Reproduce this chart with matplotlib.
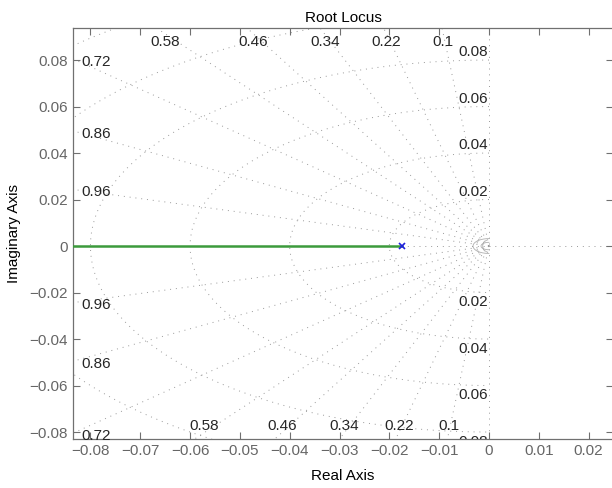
import numpy as np
import matplotlib
matplotlib.use("Agg")
import matplotlib.pyplot as plt

plt.rcParams['font.family'] = ['Liberation Sans', 'DejaVu Sans']

# root locus data
pole_re = [-0.0175]
pole_im = [0.0]
locus_re = [-0.0175, -0.2]
locus_im = [0.0, 0.0]

# sgrid values
zeta = [0.1, 0.22, 0.34, 0.46, 0.58, 0.72, 0.86, 0.96]
wn = [0.02, 0.04, 0.06, 0.08, 0.10, 0.12]
wn_small = [0.0016, 0.0032]

xticks = [-0.08, -0.07, -0.06, -0.05, -0.04, -0.03, -0.02, -0.01, 0, 0.01, 0.02]
yticks = [-0.08, -0.06, -0.04, -0.02, 0, 0.02, 0.04, 0.06, 0.08]
xlim = (-0.0835, 0.0249)
ylim = (-0.083, 0.094)

grid_col = '#999999'
grid_ls = (0, (1, 5))
lab_col = '#262626'

fig = plt.figure(figsize=(6.12, 4.88), dpi=100)
ax = fig.add_axes([73 / 612, 1 - 439 / 488, 540 / 612, (439 - 27.5) / 488])

# damping rays
for z in zeta:
    s = np.sqrt(1 - z ** 2)
    for sign in (1, -1):
        ax.plot([0, -z * 1.0], [0, sign * s * 1.0], color=grid_col, ls=grid_ls, lw=0.7, zorder=1)

# natural frequency semicircles
th = np.linspace(np.pi / 2, 3 * np.pi / 2, 400)
for w in wn:
    ax.plot(w * np.cos(th), w * np.sin(th), color=grid_col, ls=grid_ls, lw=0.7, zorder=1)
for w in wn_small:
    ax.plot(w * np.cos(th), w * np.sin(th), color='#b0b0b0', lw=0.6, zorder=1)

# real and imaginary axis lines
ax.plot([-1, 1], [0, 0], color=grid_col, ls=grid_ls, lw=0.7, zorder=1)
ax.plot([0, 0], [-1, 1], color=grid_col, ls=grid_ls, lw=0.7, zorder=1)

# damping labels
for z in zeta:
    k = z / np.sqrt(1 - z ** 2)
    # upper
    xt = -k * (ylim[1] - 0.0028)
    if xt > xlim[0]:
        ax.text(xt, 0.0879, f'{z:g}', ha='center', va='center', fontsize=11, color=lab_col)
        xb = -k * (-ylim[0] - 0.0028)
        ax.text(xb, -0.0776, f'{z:g}', ha='center', va='center', fontsize=11, color=lab_col)
    else:
        yl = -xlim[0] / k
        ax.text(-0.0818, yl - 0.0013, f'{z:g}', ha='left', va='center', fontsize=11, color=lab_col)
        ax.text(-0.0818, -yl - 0.0011, f'{z:g}', ha='left', va='center', fontsize=11, color=lab_col)

# natural frequency labels
for w in wn:
    if w < ylim[1]:
        ax.text(-0.0002, w + 0.0003, f'{w:g}', ha='right', va='bottom', fontsize=11, color=lab_col)
        ax.text(-0.0002, -w - 0.0012, f'{w:g}', ha='right', va='top', fontsize=11,
                color=lab_col, clip_on=True)

# locus and pole
ax.plot(locus_re, locus_im, color='#3c9a3c', lw=1.8, zorder=3)
ax.plot(pole_re, pole_im, 'x', color='#1f1fdf', ms=5, mew=1.2, zorder=4)

ax.set_xlim(xlim)
ax.set_ylim(ylim)
ax.set_xticks(xticks)
ax.set_yticks(yticks)
ax.set_xticklabels(['\u22120.08', '\u22120.07', '\u22120.06', '\u22120.05', '\u22120.04', '\u22120.03',
                    '\u22120.02', '\u22120.01', '0', '0.01', '0.02'])
ax.set_yticklabels(['\u22120.08', '\u22120.06', '\u22120.04', '\u22120.02', '0', '0.02', '0.04', '0.06', '0.08'])
ax.tick_params(direction='in', top=True, right=True, length=5, width=0.8,
               colors='#707070', labelsize=11, labelcolor='#666666')
for sp in ax.spines.values():
    sp.set_color('#707070')
    sp.set_linewidth(0.9)

ax.set_title('Root Locus', fontsize=11, pad=4)
ax.set_xlabel('Real Axis', fontsize=11, labelpad=8)
ax.set_ylabel('Imaginary Axis', fontsize=11, labelpad=6)

fig.savefig('out.png', dpi=100)
